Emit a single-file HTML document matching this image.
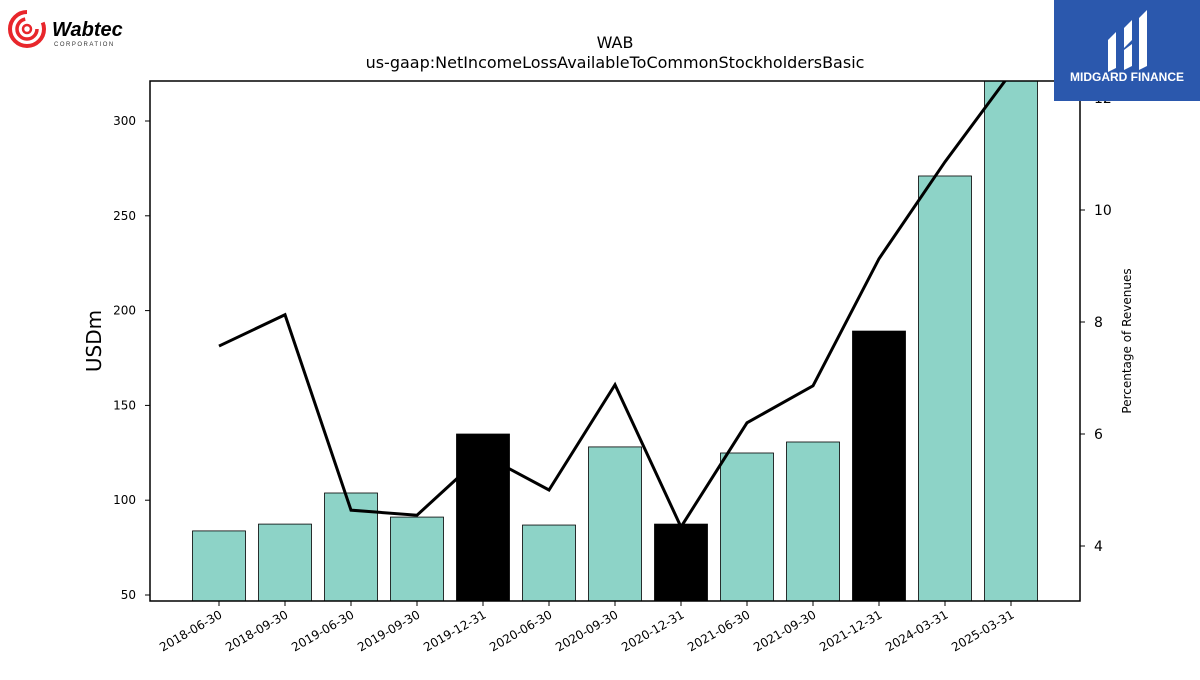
<!DOCTYPE html>
<html><head><meta charset="utf-8"><style>
body{margin:0;background:#fff;font-family:"Liberation Sans","DejaVu Sans",sans-serif}
svg text{font-family:"DejaVu Sans","Liberation Sans",sans-serif}
</style></head><body>
<svg id="chart" width="1200" height="675" viewBox="0 0 1200 675" xmlns="http://www.w3.org/2000/svg">
<g>
<circle cx="27" cy="29" r="17" fill="none" stroke="#e8262b" stroke-width="4" stroke-dasharray="80 20"/>
<circle cx="27" cy="29" r="10" fill="none" stroke="#e8262b" stroke-width="3.5" stroke-dasharray="45 18"/>
<circle cx="27" cy="29" r="4" fill="none" stroke="#e8262b" stroke-width="2.5"/>
<text x="52" y="36" font-size="20" font-weight="bold" font-style="italic" fill="#000" style="font-family:'Liberation Sans',sans-serif">Wabtec</text>
<text x="54" y="46" font-size="6" letter-spacing="1.5" fill="#333" style="font-family:'Liberation Sans',sans-serif">CORPORATION</text>
</g>
<text x="615" y="48" text-anchor="middle" font-size="16">WAB</text>
<text x="615" y="68" text-anchor="middle" font-size="16">us-gaap:NetIncomeLossAvailableToCommonStockholdersBasic</text>
<defs><clipPath id="pa"><rect x="150" y="81" width="930" height="520"/></clipPath></defs>
<g id="bars" clip-path="url(#pa)"></g>
<g id="line" clip-path="url(#pa)"></g>
<rect x="150" y="81" width="930" height="520" fill="none" stroke="#000" stroke-width="1.5"/>
<g id="axes"></g>
<text transform="translate(101,341) rotate(-90)" text-anchor="middle" font-size="20">USDm</text>
<text transform="translate(1131,341) rotate(-90)" text-anchor="middle" font-size="12">Percentage of Revenues</text>
<g>
<rect x="1054" y="0" width="146" height="101" fill="#2b58ad"/>
<path d="M1108 40 L1116 32 L1116 68 L1108 72 Z M1124 28 L1132 20 L1132 40 L1124 48 Z M1124 50 L1132 44 L1132 66 L1124 70 Z M1139 18 L1147 10 L1147 66 L1139 70 Z" fill="#fff"/>
<text x="1127" y="81" text-anchor="middle" font-size="12" font-weight="bold" fill="#fff" style="font-family:'Liberation Sans',sans-serif">MIDGARD FINANCE</text>
</g>
</svg>
<script>
const categories=["2018-06-30","2018-09-30","2019-06-30","2019-09-30","2019-12-31","2020-06-30","2020-09-30","2020-12-31","2021-06-30","2021-09-30","2021-12-31","2024-03-31","2025-03-31"];
const barValues=[83.8,87.4,103.8,91.1,134.9,86.9,128.1,87.4,124.9,130.7,189.2,271,325];
const annualFlags=[0,0,0,0,1,0,0,1,0,0,1,0,0];
const pctValues=[7.57,8.13,4.64,4.55,5.63,5.0,6.88,4.34,6.2,6.86,9.13,10.86,12.45];
const leftTicks=[50,100,150,200,250,300];
const rightTicks=[4,6,8,10,12];
const NS="http://www.w3.org/2000/svg";
const yL=v=>595-(v-50)*1.896;
const yR=v=>546-(v-4)*56;
const xC=i=>219+i*66;
function mk(t,a,p){const e=document.createElementNS(NS,t);for(const k in a)e.setAttribute(k,a[k]);p.appendChild(e);return e;}
const bars=document.getElementById('bars'),line=document.getElementById('line'),axes=document.getElementById('axes');
barValues.forEach((v,i)=>{
 const r=mk('rect',{x:xC(i)-26.5,y:yL(v),width:53,height:601-yL(v),fill:annualFlags[i]?'#000':'#8dd3c7',stroke:'#000','stroke-width':0.8},bars);
 
 
});
const pl=mk('polyline',{points:pctValues.map((v,i)=>xC(i)+','+yR(v)).join(' '),fill:'none',stroke:'#000','stroke-width':3},line);


leftTicks.forEach(t=>{
 const y=yL(t);
 mk('line',{x1:145,x2:150,y1:y,y2:y,stroke:'#000'},axes);
 const tx=mk('text',{x:136,y:y+4,'text-anchor':'end','font-size':12},axes);tx.textContent=t;
 
 
});
rightTicks.forEach(t=>{
 const y=yR(t);
 mk('line',{x1:1080,x2:1085,y1:y,y2:y,stroke:'#000'},axes);
 const tx=mk('text',{x:1094,y:y+5,'font-size':14},axes);tx.textContent=t;
 
 
});
categories.forEach((c,i)=>{
 const x=xC(i);
 mk('line',{x1:x,x2:x,y1:601,y2:606,stroke:'#000'},axes);
 const tx=mk('text',{transform:`translate(${x+4},${617}) rotate(-30)`,'text-anchor':'end','font-size':12},axes);tx.textContent=c;
 
 
});
</script>
</body></html>
